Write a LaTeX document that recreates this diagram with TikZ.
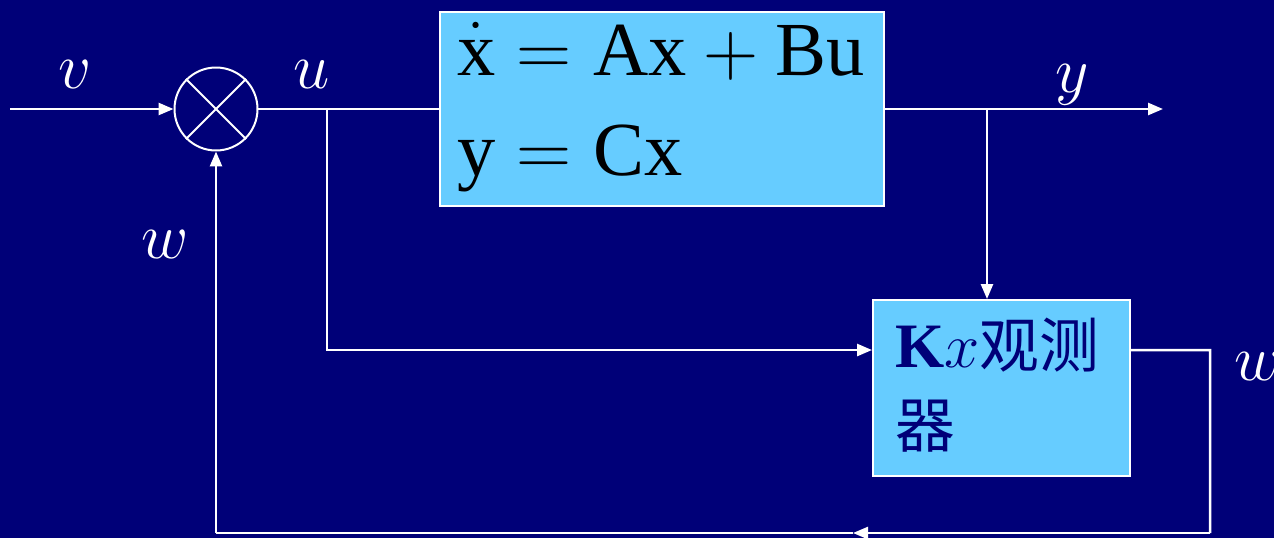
\RequirePackage{fix-cm}
\documentclass[tikz,border=0pt]{standalone}
\usepackage{fontspec}
\newfontfamily\rmtimes{Liberation Serif}
\newfontfamily\cjk{Noto Sans CJK SC}
\usepackage{tikz}
\usepackage{xcolor}
\usetikzlibrary{arrows.meta, positioning}
\definecolor{navy}{RGB}{0,0,120}
\definecolor{boxBlue}{RGB}{102,204,255}
\newcommand{\tm}[1]{\hbox{\rmtimes #1}}
\tikzset{
    blockBox/.style={draw=white, line width=0.04cm, fill=boxBlue, inner sep=0pt},
    sumNode/.style={circle, draw=white, line width=0.04cm, inner sep=0pt, minimum size=1.66cm},
    sigLine/.style={draw=white, line width=0.05cm},
    sigLabel/.style={text=white, inner sep=0pt, anchor=base, font=\fontsize{37}{40}\selectfont}
}

\begin{document}
\begin{tikzpicture}[x=0.02cm, y=-0.02cm, >={Triangle[length=0.3cm, width=0.24cm]}]
    \useasboundingbox (0,0) rectangle (1274,538);
    \fill[navy] (0,0) rectangle (1274,538);
    % blocks
    \node[sumNode] (sum) at (216,109) {};
    \draw[white, line width=0.04cm] (sum.45)--(sum.225) (sum.135)--(sum.315);
    \node[blockBox, minimum width=8.88cm, minimum height=3.88cm] (plant) at (662,109) {};
    \node[blockBox, minimum width=5.14cm, minimum height=3.52cm] (obs) at (1001.5,388) {};
    \node[anchor=base west, inner sep=0pt, font=\fontsize{43.5}{48}\selectfont] (eqA) at (457,75)
        {$\dot{\tm{x}} = \tm{Ax} + \tm{Bu}$};
    \node[anchor=base west, inner sep=0pt, font=\fontsize{43.5}{48}\selectfont] (eqB) at (457,175)
        {$\tm{y} = \tm{Cx}$};
    \node[anchor=base west, inner sep=0pt, text=navy, font=\fontsize{36}{40}\selectfont] (obsA) at (895,367)
        {{\rmtimes\bfseries K}$x${\cjk\fontsize{34}{40}\selectfont 观测}};
    \node[anchor=base west, inner sep=0pt, text=navy, font=\cjk\fontsize{34}{40}\selectfont] (obsB) at (895,447) {器};
    % points on the lines
    \coordinate (in) at (10,109);
    \coordinate (uBr) at (327,109);
    \coordinate (yBr) at (987,109);
    \coordinate (yOut) at (1163,109);
    \coordinate (wR) at (1210,350);
    \coordinate (wB) at (1210,533);
    \coordinate (wMid) at (853,533);
    \coordinate (wL) at (216,533);
    % signals
    \draw[sigLine, ->] (in) -- (sum.west);
    \draw[sigLine] (sum.east) -- (plant.west);
    \draw[sigLine, ->] (uBr) |- ([yshift=0.76cm]obs.west);
    \draw[sigLine, ->] (plant.east) -- (yOut);
    \draw[sigLine, ->] (yBr) -- (yBr |- obs.north);
    \draw[sigLine] ([yshift=0.76cm]obs.east) -- (wR) -- (wB);
    \draw[sigLine, ->] (wB) -- (wMid);
    \draw[sigLine] (wMid) -- (wL);
    \draw[sigLine, ->] (wL) -- (sum.south);
    % labels
    \node[sigLabel] (vLab) at (75,88) {$v$};
    \node[sigLabel] (uLab) at (312,88) {$u$};
    \node[sigLabel] (yLab) at (1072,92) {$y$};
    \node[sigLabel] (wLab) at (165,258) {$w$};
    \node[sigLabel] (wLab2) at (1258,380) {$w$};
\end{tikzpicture}
\end{document}
